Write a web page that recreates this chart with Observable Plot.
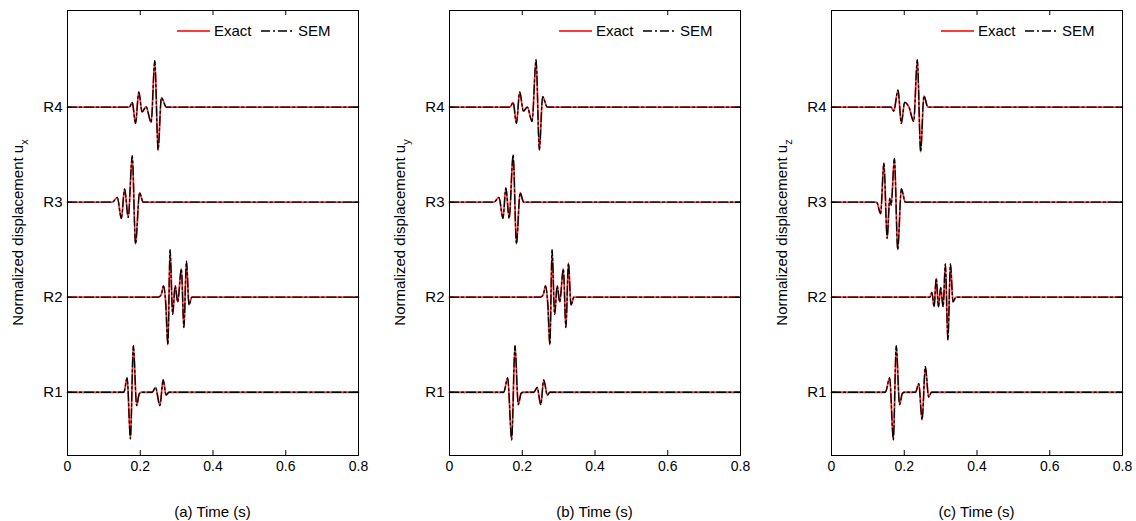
<!DOCTYPE html>
<html><head><meta charset="utf-8">
<script src="https://cdn.jsdelivr.net/npm/d3@7"></script>
<script src="https://cdn.jsdelivr.net/npm/@observablehq/plot@0.6"></script>
<style>
body{margin:0;background:#fff;font-family:"Liberation Sans",Arial,sans-serif}
#row{display:flex;width:1136px}
</style>
</head><body><div id="row"></div>
<script>
const receivers = ["R1", "R2", "R3", "R4"];
const timeTicks = [0, 0.2, 0.4, 0.6, 0.8];
const panelLetters = ["(a)", "(b)", "(c)"];
const components = ["x", "y", "z"];
const legendLabels = ["Exact", "SEM"];

// [time (s), normalized amplitude]
const ux_R1 = [[0,0],[0.155,0],[0.164,0.15],[0.173,-0.49],[0.181,0.49],[0.190,-0.14],[0.197,-0.02],[0.203,0],[0.233,0],[0.242,0.05],[0.254,-0.14],[0.263,0.13],[0.271,-0.03],[0.279,0],[0.8,0]];
const ux_R2 = [[0,0],[0.250,0],[0.258,0.03],[0.264,0.12],[0.270,-0.06],[0.276,-0.50],[0.282,0.50],[0.289,-0.18],[0.296,0.12],[0.303,-0.05],[0.313,0.30],[0.320,-0.32],[0.327,0.38],[0.334,-0.08],[0.342,0],[0.8,0]];
const ux_R3 = [[0,0],[0.123,0],[0.137,0.05],[0.148,-0.17],[0.157,0.14],[0.167,-0.16],[0.178,0.49],[0.187,-0.44],[0.198,0.10],[0.208,0],[0.8,0]];
const ux_R4 = [[0,0],[0.170,0],[0.178,0.05],[0.187,-0.17],[0.196,0.16],[0.205,-0.05],[0.216,0.005],[0.230,-0.16],[0.240,0.49],[0.249,-0.45],[0.258,0.10],[0.272,0],[0.8,0]];

const uy_R1 = [[0,0],[0.149,0],[0.160,0.15],[0.171,-0.50],[0.180,0.49],[0.189,-0.13],[0.197,-0.01],[0.203,0],[0.232,0],[0.241,0.05],[0.251,-0.13],[0.259,0.13],[0.269,-0.03],[0.276,0],[0.8,0]];
const uy_R2 = [[0,0],[0.250,0],[0.258,0.03],[0.264,0.12],[0.270,-0.06],[0.276,-0.50],[0.282,0.50],[0.289,-0.18],[0.296,0.12],[0.303,-0.05],[0.313,0.30],[0.320,-0.32],[0.327,0.36],[0.334,-0.08],[0.342,0],[0.8,0]];
const uy_R3 = [[0,0],[0.122,0],[0.136,0.05],[0.147,-0.17],[0.155,0.15],[0.164,-0.17],[0.175,0.50],[0.184,-0.44],[0.194,0.10],[0.204,0],[0.8,0]];
const uy_R4 = [[0,0],[0.166,0],[0.175,0.05],[0.184,-0.17],[0.193,0.16],[0.203,-0.04],[0.214,0.0],[0.227,-0.15],[0.238,0.50],[0.247,-0.45],[0.256,0.11],[0.269,0],[0.8,0]];

const uz_R1 = [[0,0],[0.148,0],[0.160,0.15],[0.170,-0.50],[0.178,0.49],[0.187,-0.13],[0.195,-0.01],[0.201,0],[0.231,0],[0.240,0.09],[0.249,-0.29],[0.258,0.27],[0.267,-0.05],[0.275,0],[0.8,0]];
const uz_R2 = [[0,0],[0.270,0],[0.276,0.05],[0.282,-0.10],[0.288,0.20],[0.294,-0.10],[0.300,0.10],[0.307,-0.10],[0.313,0.35],[0.320,-0.45],[0.327,0.35],[0.334,-0.05],[0.342,0],[0.8,0]];
const uz_R3 = [[0,0],[0.124,0],[0.135,-0.12],[0.144,0.41],[0.153,-0.38],[0.160,0.04],[0.164,-0.03],[0.173,0.46],[0.182,-0.50],[0.192,0.14],[0.203,0],[0.8,0]];
const uz_R4 = [[0,0],[0.164,0],[0.171,-0.04],[0.183,0.18],[0.192,-0.17],[0.201,0.05],[0.213,0.0],[0.226,-0.15],[0.236,0.50],[0.245,-0.47],[0.254,0.12],[0.265,0],[0.8,0]];

const panelTraces = [
  [ux_R1, ux_R2, ux_R3, ux_R4],
  [uy_R1, uy_R2, uy_R3, uy_R4],
  [uz_R1, uz_R2, uz_R3, uz_R4]
];

const FONT = "Liberation Sans, Arial, Helvetica, sans-serif";
const widths = [382, 382, 372];
const ML = 67, MT = 10, MB = 66, H = 521, FW = 291;
const row = document.getElementById("row");

panelTraces.forEach((traces, p) => {
  const rows = traces.flatMap((tr, i) => tr.map(([t, a]) => ({t, y: i + 1 + a, r: receivers[i]})));
  const W = widths[p];
  const chart = Plot.plot({
    width: W, height: H,
    marginLeft: ML, marginRight: W - ML - FW, marginTop: MT, marginBottom: MB,
    style: {fontFamily: FONT, fontSize: "14px", color: "#000", background: "#fff", overflow: "visible"},
    x: {domain: [0, 0.8], label: null},
    y: {domain: [0.334, 5.018], label: null},
    marks: [
      Plot.line(rows, {x: "t", y: "y", z: "r", stroke: "#ff3a3a", strokeWidth: 1.8, curve: "monotone-x"}),
      Plot.line(rows, {x: "t", y: "y", z: "r", stroke: "#000", strokeWidth: 1.3, strokeDasharray: "9,3,2,3", curve: "monotone-x"}),
      Plot.ruleX(timeTicks, {x: d => d, insetTop: 440, stroke: "#000"}),
      Plot.ruleX(timeTicks, {x: d => d, insetBottom: 440, stroke: "#000"}),
      Plot.ruleY([1, 2, 3, 4], {y: d => d, insetRight: FW - 5, stroke: "#000"}),
      Plot.ruleY([1, 2, 3, 4], {y: d => d, insetLeft: FW - 5, stroke: "#000"}),
      Plot.axisX(timeTicks, {tickSize: 0, tickPadding: 6, fontSize: 14, label: null,
        tickFormat: d => d === 0 ? "0" : d3.format(".1f")(d)}),
      Plot.axisY([1, 2, 3, 4], {tickSize: 0, tickPadding: 5, fontSize: 15, label: null,
        tickFormat: d => receivers[d - 1]}),
      Plot.frame({stroke: "#000", strokeWidth: 1})
    ]
  });
  const svg = d3.select(chart.tagName.toLowerCase() === "svg" ? chart : chart.querySelector("svg"));
  const R = ML + FW;
  // legend
  const lg = svg.append("g").attr("font-family", FONT).attr("font-size", 15).attr("text-anchor", "start");
  lg.append("line").attr("x1", R - 181).attr("x2", R - 148).attr("y1", 31).attr("y2", 31)
    .attr("stroke", "#ff3a3a").attr("stroke-width", 1.8);
  lg.append("text").attr("x", R - 144).attr("y", 31).attr("dy", "0.35em").text(legendLabels[0]);
  lg.append("line").attr("x1", R - 97).attr("x2", R - 63).attr("y1", 31).attr("y2", 31)
    .attr("stroke", "#000").attr("stroke-width", 1.3).attr("stroke-dasharray", "9,3,2,3");
  lg.append("text").attr("x", R - 60).attr("y", 31).attr("dy", "0.35em").text(legendLabels[1]);
  // x label
  svg.append("text").attr("x", ML + FW / 2).attr("y", 512).attr("dy", "0.35em")
    .attr("text-anchor", "middle").attr("font-family", FONT).attr("font-size", 15)
    .text(panelLetters[p] + " Time (s)");
  // y label
  const yl = svg.append("text").attr("transform", `translate(18,${MT + 445 / 2}) rotate(-90)`)
    .attr("text-anchor", "middle").attr("dy", "0.35em").attr("font-family", FONT).attr("font-size", 15);
  yl.append("tspan").text("Normalized displacement u");
  yl.append("tspan").attr("font-size", 11).attr("dy", "5").text(components[p]);
  row.appendChild(chart);
});
</script>
</body></html>
